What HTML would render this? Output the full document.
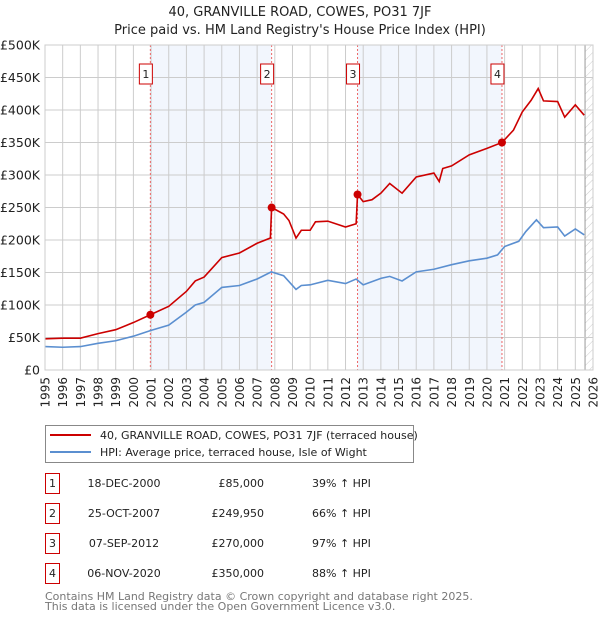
<!DOCTYPE html>
<html><head><meta charset="utf-8">
<style>
body{margin:0;background:#fff;font-family:"Liberation Sans","DejaVu Sans",sans-serif;}
svg text{font-family:"DejaVu Sans","Liberation Sans",sans-serif;}
</style></head>
<body>
<svg id="chart" width="600" height="620" viewBox="0 0 600 620">
<defs>
<pattern id="hatch" width="6" height="6" patternUnits="userSpaceOnUse" patternTransform="rotate(45)">
<line x1="0" y1="0" x2="0" y2="6" stroke="#ccc" stroke-width="1"/>
</pattern>
</defs>
<text x="300" y="16" text-anchor="middle" font-size="13" fill="#222">40, GRANVILLE ROAD, COWES, PO31 7JF</text>
<text x="300" y="34" text-anchor="middle" font-size="13" fill="#222">Price paid vs. HM Land Registry's House Price Index (HPI)</text>
<g id="plot"></g>
<g>
<rect x="45.5" y="425.5" width="368" height="37" fill="#fff" stroke="#888"/>
<line x1="50" y1="435" x2="91" y2="435" stroke="#cc0000" stroke-width="2"/>
<text x="100" y="439" font-size="11" fill="#222">40, GRANVILLE ROAD, COWES, PO31 7JF (terraced house)</text>
<line x1="50" y1="452" x2="91" y2="452" stroke="#5b8fd0" stroke-width="2"/>
<text x="100" y="456" font-size="11" fill="#222">HPI: Average price, terraced house, Isle of Wight</text>
</g>
<g id="table" font-size="11" fill="#222"></g>
<text x="45" y="600" font-size="11" fill="#777">Contains HM Land Registry data © Crown copyright and database right 2025.</text>
<text x="45" y="610" font-size="11" fill="#777">This data is licensed under the Open Government Licence v3.0.</text>
</svg>
<script>
const hpiYears=[1995,1996,1997,1998,1999,2000,2001,2002,2003,2003.5,2004,2005,2006,2007,2007.8,2008.5,2009.2,2009.5,2010,2011,2012,2012.6,2013,2014,2014.5,2015.2,2016,2017,2018,2019,2020,2020.6,2021,2021.8,2022.2,2022.8,2023.2,2024,2024.4,2025,2025.5];
const hpiValues=[36,35,36,41,45,52,61,69,89,100,104,127,130,140,151,145,124,130,131,138,133,140,131,141,144,137,151,155,162,168,172,177,190,198,213,231,219,220,206,217,208];
const priceYears=[1995,1996,1997,1998,1999,2000,2000.96,2002,2003,2003.5,2004,2005,2006,2007,2007.75,2007.82,2008.5,2008.8,2009.2,2009.5,2010,2010.3,2011,2012,2012.6,2012.68,2013,2013.5,2014,2014.5,2015.2,2016,2017,2017.3,2017.5,2018,2019,2020,2020.85,2021.5,2022,2022.5,2022.9,2023.2,2024,2024.4,2025,2025.5];
const priceValues=[48,49,49,56,62,73,85,98,121,137,143,173,180,195,203,250,240,230,203,215,215,228,229,220,225,270,259,262,272,287,272,297,303,290,310,314,331,341,350,369,397,415,433,414,413,389,408,392];
const saleLabels=["1","2","3","4"];
const saleYears=[2000.96,2007.82,2012.68,2020.85];
const saleValues=[85,249.95,270,350];
const saleDates=["18-DEC-2000","25-OCT-2007","07-SEP-2012","06-NOV-2020"];
const salePrices=["£85,000","£249,950","£270,000","£350,000"];
const saleHpi=["39% ↑ HPI","66% ↑ HPI","97% ↑ HPI","88% ↑ HPI"];
const yTicks=[0,50,100,150,200,250,300,350,400,450,500];
const yTickLabels=["£0","£50K","£100K","£150K","£200K","£250K","£300K","£350K","£400K","£450K","£500K"];
const xTicks=[1995,1996,1997,1998,1999,2000,2001,2002,2003,2004,2005,2006,2007,2008,2009,2010,2011,2012,2013,2014,2015,2016,2017,2018,2019,2020,2021,2022,2023,2024,2025,2026];

const NS="http://www.w3.org/2000/svg";
const L=45,R=593,T=45,B=370;
const xs=y=>L+(y-1995)/(2026-1995)*(R-L);
const ys=v=>B-v/500*(B-T);
const plot=document.getElementById('plot');
function mk(tag,attrs,parent){const e=document.createElementNS(NS,tag);for(const k in attrs)e.setAttribute(k,attrs[k]);(parent||plot).appendChild(e);return e;}

// shading
for(let i=0;i<saleYears.length;i+=2){
  const x1=xs(saleYears[i]),x2=xs(saleYears[i+1]);
  const r=mk('rect',{x:x1,y:T,width:x2-x1,height:B-T,fill:'#eef3fc',opacity:0.75});
  
  
}
// hatch future
const hx=xs(2025.55);
const hr=mk('rect',{x:hx,y:T,width:R-hx,height:B-T,fill:'url(#hatch)'});


mk('line',{x1:hx,y1:T,x2:hx,y2:B,stroke:'#999','stroke-width':1});
// grid
xTicks.forEach((t,i)=>{
  const x=xs(t);
  const g=mk('line',{x1:x,y1:T,x2:x,y2:B,stroke:'#ccc','stroke-width':1});
  
  
  const tx=mk('text',{x:0,y:0,'font-size':12,fill:'#222','text-anchor':'end',transform:`translate(${x+4.5},${B+7}) rotate(-90)`});
  tx.textContent=t;
  
  
});
yTicks.forEach((v,i)=>{
  const y=ys(v);
  const g=mk('line',{x1:L,y1:y,x2:R,y2:y,stroke:'#ccc','stroke-width':1});
  
  
  const tx=mk('text',{x:L-5,y:y+4.5,'font-size':12.5,fill:'#222','text-anchor':'end'});
  tx.textContent=yTickLabels[i];
  
  
});
// sale lines & labels
saleYears.forEach((s,i)=>{
  const x=xs(s);
  const l=mk('line',{x1:x,y1:T,x2:x,y2:B,stroke:'#e66','stroke-width':1,'stroke-dasharray':'2,2'});
  
  
  const b=mk('rect',{x:x-11,y:64,width:13,height:20,fill:'#fff',stroke:'#cc0000'});
  
  
  const t=mk('text',{x:x-4.5,y:78,'font-size':11,fill:'#222','text-anchor':'middle'});
  t.textContent=saleLabels[i];
  
  
});
// lines
const hp=mk('polyline',{points:hpiYears.map((y,i)=>xs(y)+','+ys(hpiValues[i])).join(' '),fill:'none',stroke:'#5b8fd0','stroke-width':1.6});


const pp=mk('polyline',{points:priceYears.map((y,i)=>xs(y)+','+ys(priceValues[i])).join(' '),fill:'none',stroke:'#cc0000','stroke-width':1.6});


saleYears.forEach((s,i)=>{
  const c=mk('circle',{cx:xs(s),cy:ys(saleValues[i]),r:4,fill:'#cc0000'});
  
  
});
mk('rect',{x:L,y:T,width:R-L,height:B-T,fill:'none',stroke:'#ccc'});

// table
const tb=document.getElementById('table');
saleLabels.forEach((s,i)=>{
  const y=483+i*30;
  const b=mk('rect',{x:45.5,y:y-9.5,width:14,height:20,fill:'#fff',stroke:'#cc0000'},tb);
  
  
  const cells=[[52.5,s,'middle'],[124,saleDates[i],'middle'],[264,salePrices[i],'end'],[312,saleHpi[i],'start']];
  cells.forEach(c=>{
    const t=mk('text',{x:c[0],y:y+4,'text-anchor':c[2],'font-size':11,fill:'#222'},tb);
    t.textContent=c[1];
    
    
  });
});
</script>
</body></html>
